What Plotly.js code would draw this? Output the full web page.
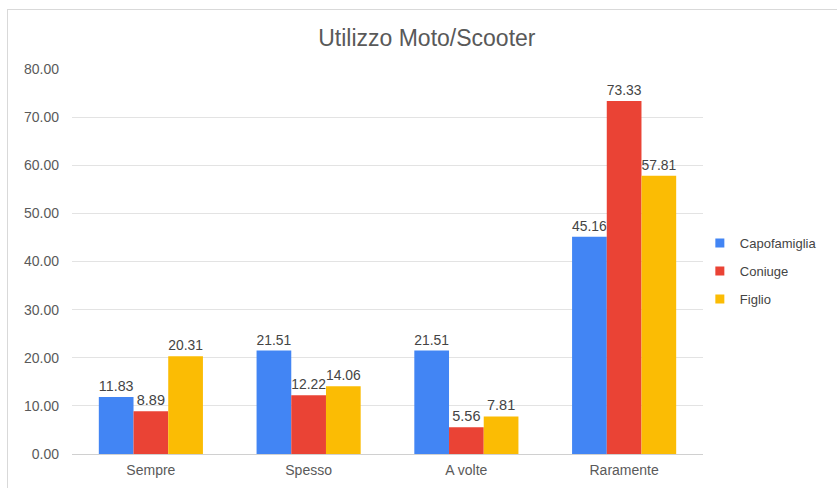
<!DOCTYPE html>
<html><head><meta charset="utf-8">
<script src="https://cdn.plot.ly/plotly-3.0.1.min.js"></script>
<style>
html,body{margin:0;padding:0;background:#fff;overflow:hidden}
#chart{width:837px;height:488px;position:absolute;left:0;top:0}
#frame{position:absolute;left:7px;top:9px;width:850px;height:500px;border:1px solid #d9d9d9;pointer-events:none}
</style></head>
<body>
<div id="chart"></div>
<div id="frame"></div>
<script>
const categories = ["Sempre", "Spesso", "A volte", "Raramente"];
const seriesNames = ["Capofamiglia", "Coniuge", "Figlio"];
const capofamiglia = [11.83, 21.51, 21.51, 45.16];
const coniuge = [8.89, 12.22, 5.56, 73.33];
const figlio = [20.31, 14.06, 7.81, 57.81];
const colors = ["#4285f4", "#ea4335", "#fbbc04"];
const yTicks = [0, 10, 20, 30, 40, 50, 60, 70, 80];

const FONT = "Liberation Sans, Arial, sans-serif";
const values = [capofamiglia, coniuge, figlio];
const traces = values.map((v, i) => ({
  type: "bar",
  name: seriesNames[i],
  x: categories,
  y: v,
  marker: {color: colors[i]},
  text: v.map(d => d.toFixed(2)),
  textposition: "outside",
  textfont: {family: FONT, size: 14.5, color: "#444"},
  cliponaxis: false,
  showlegend: false,
  hoverinfo: "none"
}));
// legend entries with small square swatches
seriesNames.forEach((n, i) => traces.push({
  type: "scatter", mode: "markers", name: n,
  x: [null], y: [null],
  marker: {symbol: "square", size: 9, color: colors[i]},
  legendgroup: "g" + i, hoverinfo: "none"
}));

const layout = {
  width: 837, height: 488,
  margin: {l: 72, r: 134, t: 69, b: 34},
  paper_bgcolor: "#fff", plot_bgcolor: "#fff",
  title: {text: "Utilizzo Moto/Scooter", xref: "container", x: 0.51, xanchor: "center",
    yref: "container", y: 0.922, yanchor: "middle",
    font: {family: FONT, size: 23, color: "#595959"}},
  font: {family: FONT, size: 14, color: "#5a5a5a"},
  barmode: "group",
  bargap: 0.34,
  bargroupgap: 0,
  xaxis: {type: "category", showgrid: false, showline: false, ticks: "", ticklabelstandoff: 6,
    tickfont: {size: 14, color: "#5a5a5a"}},
  yaxis: {range: [0, 80], tickvals: yTicks, ticktext: yTicks.map(t => t.toFixed(2)),
    showgrid: true, gridcolor: "#e3e3e3", zeroline: true, zerolinecolor: "#d0d0d0",
    ticks: "", ticklabelstandoff: 12, tickfont: {size: 14, color: "#5a5a5a"}},
  showlegend: true,
  legend: {x: 0.995, xanchor: "left", y: 0.475, yanchor: "middle", traceorder: "grouped",
    tracegroupgap: 8, itemwidth: 30, font: {size: 13, color: "#444"}, bgcolor: "rgba(0,0,0,0)"}
};

Plotly.newPlot("chart", traces, layout, {displayModeBar: false, staticPlot: true});
</script>
</body></html>
